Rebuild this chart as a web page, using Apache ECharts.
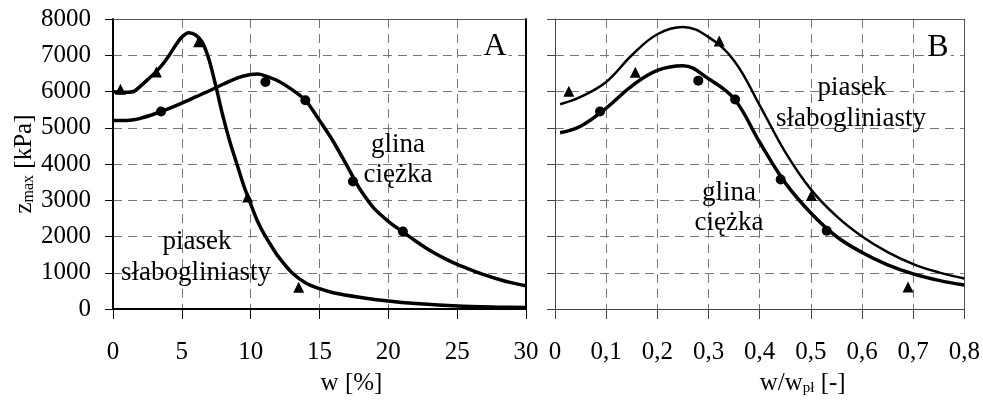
<!DOCTYPE html>
<html>
<head>
<meta charset="utf-8">
<script src="https://cdn.jsdelivr.net/npm/echarts@6/dist/echarts.min.js"></script>
<style>
  html, body { margin: 0; padding: 0; background: #fff; }
  #chart { width: 983px; height: 401px; }
</style>
</head>
<body>
<div id="chart"></div>
<script>
// panel A: z_max vs w [%]
var wA_curvePiasek = [0, 0.5, 1, 1.5, 2, 2.5, 3, 3.5, 4, 4.5, 5, 5.5, 6, 6.5, 7, 7.5, 8, 8.5, 9, 9.5, 10, 10.5, 11, 11.5, 12, 13, 14, 15, 16, 18, 20, 22, 25, 28, 30]
var zA_curvePiasek = [6000, 5970, 5980, 6000, 6150, 6320, 6500, 6700, 6950, 7250, 7500, 7620, 7560, 7350, 6850, 6100, 5300, 4600, 4000, 3400, 2900, 2420, 2050, 1740, 1450, 1000, 720, 560, 450, 320, 220, 150, 80, 50, 40]
var wA_curveGlina = [0, 1, 1.5, 2, 3, 3.5, 4, 5, 6, 7, 8, 9, 10, 10.5, 11, 12, 13, 14, 15, 16, 17, 17.5, 18, 19, 20, 21, 22, 23, 24, 25, 26, 27, 28, 29, 30]
var zA_curveGlina = [5200, 5200, 5220, 5260, 5380, 5450, 5520, 5680, 5850, 6020, 6200, 6370, 6470, 6480, 6440, 6290, 6050, 5750, 5200, 4620, 3950, 3600, 3270, 2760, 2420, 2140, 1870, 1620, 1410, 1230, 1080, 940, 820, 720, 640]
var wA_ptsPiasek = [0.54, 3.15, 6.22, 9.78, 13.49]
var zA_ptsPiasek = [6060, 6540, 7370, 3090, 600]
var wA_ptsGlina = [3.49, 11.07, 13.97, 17.43, 21.06]
var zA_ptsGlina = [5450, 6260, 5760, 3520, 2140]

// panel B: z_max vs w/wpl [-]
var wB_curve = [0.01, 0.05, 0.1, 0.15, 0.2, 0.25, 0.3, 0.35, 0.4, 0.45, 0.5, 0.55, 0.6, 0.65, 0.7, 0.75, 0.8]
var zB_curvePiasek = [5650, 5850, 6260, 7000, 7580, 7780, 7500, 6850, 5620, 4330, 3300, 2560, 2000, 1570, 1240, 1010, 840]
var zB_curveGlina = [4860, 5040, 5540, 6150, 6580, 6710, 6350, 5800, 4600, 3480, 2650, 2000, 1560, 1220, 970, 790, 660]
var wB_ptsPiasek = [0.027, 0.157, 0.321, 0.501, 0.69]
var zB_ptsPiasek = [6010, 6530, 7390, 3130, 610]
var wB_ptsGlina = [0.088, 0.28, 0.352, 0.441, 0.531]
var zB_ptsGlina = [5450, 6300, 5780, 3570, 2160]

function pairs (xs, ys) {
  return xs.map(function (x, i) { return [x, ys[i]] })
}

var serif = 'Liberation Serif, Times New Roman, serif'
var gridDash = { color: '#777', width: 1, type: [9, 6] }

var myChart = echarts.init(document.getElementById('chart'), null, { renderer: 'canvas' })

var option = {
  animation: false,
  backgroundColor: '#fff',
  textStyle: { fontFamily: serif },
  grid: [
    { left: 113, top: 19, width: 413, height: 294 },
    { left: 555, top: 19, width: 411, height: 294 }
  ],
  xAxis: [
    {
      gridIndex: 0, type: 'value', min: 0, max: 30, interval: 5,
      name: 'w [%]', nameLocation: 'middle', nameGap: 62,
      nameTextStyle: { fontFamily: serif, fontSize: 25, color: '#000', padding: [0, 0, 0, 64] },
      axisLine: { onZero: false, lineStyle: { color: '#000', width: 2 } },
      axisTick: { length: 10, lineStyle: { color: '#000', width: 1 } },
      axisLabel: { margin: 31, fontFamily: serif, fontSize: 25, color: '#000' },
      splitLine: { show: true, lineStyle: gridDash }
    },
    { // top border of A
      gridIndex: 0, type: 'value', min: 0, max: 30, position: 'top',
      axisLine: { onZero: false, lineStyle: { color: '#555', width: 1 } },
      axisTick: { show: false }, axisLabel: { show: false }, splitLine: { show: false }
    },
    {
      gridIndex: 1, type: 'value', min: 0, max: 0.8, interval: 0.1,
      name: '{n|w/w}{s|pł}{n| [-]}', nameLocation: 'middle', nameGap: 62,
      nameTextStyle: {
        fontFamily: serif, fontSize: 25, color: '#000', padding: [0, 0, 0, 86],
        rich: {
          n: { fontFamily: serif, fontSize: 25, color: '#000' },
          s: { fontFamily: serif, fontSize: 15, color: '#000', padding: [9, 0, 0, 0] }
        }
      },
      axisLine: { onZero: false, lineStyle: { color: '#444', width: 1 } },
      axisTick: { length: 10, lineStyle: { color: '#444', width: 1 } },
      axisLabel: {
        margin: 31, fontFamily: serif, fontSize: 25, color: '#000',
        formatter: function (v) { return v === 0 ? '0' : v.toFixed(1).replace('.', ',') }
      },
      splitLine: { show: true, lineStyle: gridDash }
    },
    { // top border of B
      gridIndex: 1, type: 'value', min: 0, max: 0.8, position: 'top',
      axisLine: { onZero: false, lineStyle: { color: '#555', width: 1 } },
      axisTick: { show: false }, axisLabel: { show: false }, splitLine: { show: false }
    }
  ],
  yAxis: [
    {
      gridIndex: 0, type: 'value', min: 0, max: 8000, interval: 1000,
      name: '{z|z}{s|max}{z| [kPa]}', nameLocation: 'middle', nameGap: 76, nameRotate: 90,
      nameTextStyle: {
        fontFamily: serif, fontSize: 25, color: '#000',
        rich: {
          z: { fontFamily: serif, fontSize: 25, color: '#000' },
          s: { fontFamily: serif, fontSize: 16, color: '#000', padding: [8, 0, 0, 0] }
        }
      },
      axisLine: { onZero: false, lineStyle: { color: '#000', width: 2 } },
      axisTick: { length: 8, lineStyle: { color: '#000', width: 1 } },
      axisLabel: {
        margin: 22, fontFamily: serif, fontSize: 25, color: '#000',
        formatter: function (v) { return String(v) }
      },
      splitLine: { show: true, lineStyle: gridDash }
    },
    { // right border of A
      gridIndex: 0, type: 'value', min: 0, max: 8000, position: 'right',
      axisLine: { show: true, onZero: false, lineStyle: { color: '#000', width: 2 } },
      axisTick: { show: false }, axisLabel: { show: false }, splitLine: { show: false }
    },
    {
      gridIndex: 1, type: 'value', min: 0, max: 8000, interval: 1000,
      axisLine: { show: true, onZero: false, lineStyle: { color: '#444', width: 1 } },
      axisTick: { show: true, length: 8, lineStyle: { color: '#444', width: 1 } },
      axisLabel: { show: false },
      splitLine: { show: true, lineStyle: gridDash }
    },
    { // right border of B
      gridIndex: 1, type: 'value', min: 0, max: 8000, position: 'right',
      axisLine: { show: true, onZero: false, lineStyle: { color: '#555', width: 1 } },
      axisTick: { show: false }, axisLabel: { show: false }, splitLine: { show: false }
    }
  ],
  series: [
    {
      name: 'piasek A', type: 'line', xAxisIndex: 0, yAxisIndex: 0,
      data: pairs(wA_curvePiasek, zA_curvePiasek), smooth: 0.3, showSymbol: false,
      lineStyle: { color: '#000', width: 3.5 }, z: 3
    },
    {
      name: 'glina A', type: 'line', xAxisIndex: 0, yAxisIndex: 0,
      data: pairs(wA_curveGlina, zA_curveGlina), smooth: 0.3, showSymbol: false,
      lineStyle: { color: '#000', width: 3.5 }, z: 3
    },
    {
      name: 'piasek A pkt', type: 'scatter', xAxisIndex: 0, yAxisIndex: 0,
      data: pairs(wA_ptsPiasek, zA_ptsPiasek), symbol: 'triangle', symbolSize: 11,
      itemStyle: { color: '#000', opacity: 1 }, z: 4
    },
    {
      name: 'glina A pkt', type: 'scatter', xAxisIndex: 0, yAxisIndex: 0,
      data: pairs(wA_ptsGlina, zA_ptsGlina), symbol: 'circle', symbolSize: 10,
      itemStyle: { color: '#000', opacity: 1 }, z: 4
    },
    {
      name: 'piasek B', type: 'line', xAxisIndex: 2, yAxisIndex: 2,
      data: pairs(wB_curve, zB_curvePiasek), smooth: 0.4, showSymbol: false,
      lineStyle: { color: '#000', width: 2.5 }, z: 3
    },
    {
      name: 'glina B', type: 'line', xAxisIndex: 2, yAxisIndex: 2,
      data: pairs(wB_curve, zB_curveGlina), smooth: 0.4, showSymbol: false,
      lineStyle: { color: '#000', width: 3.5 }, z: 3
    },
    {
      name: 'piasek B pkt', type: 'scatter', xAxisIndex: 2, yAxisIndex: 2,
      data: pairs(wB_ptsPiasek, zB_ptsPiasek), symbol: 'triangle', symbolSize: 11,
      itemStyle: { color: '#000', opacity: 1 }, z: 4
    },
    {
      name: 'glina B pkt', type: 'scatter', xAxisIndex: 2, yAxisIndex: 2,
      data: pairs(wB_ptsGlina, zB_ptsGlina), symbol: 'circle', symbolSize: 10,
      itemStyle: { color: '#000', opacity: 1 }, z: 4
    }
  ],
  graphic: [
    { type: 'text', x: 495, y: 47, z: 10, style: { text: 'A', font: '32px ' + serif, fill: '#000', align: 'center', verticalAlign: 'middle', backgroundColor: '#fff', padding: [0, 2] } },
    { type: 'text', x: 938, y: 48, z: 10, style: { text: 'B', font: '32px ' + serif, fill: '#000', align: 'center', verticalAlign: 'middle', backgroundColor: '#fff', padding: [0, 2] } },
    { type: 'text', x: 398, y: 145, z: 10, style: { text: 'glina', font: '27px ' + serif, fill: '#000', align: 'center', verticalAlign: 'middle' } },
    { type: 'text', x: 398, y: 175, z: 10, style: { text: 'ciężka', font: '27px ' + serif, fill: '#000', align: 'center', verticalAlign: 'middle' } },
    { type: 'text', x: 197, y: 242, z: 10, style: { text: 'piasek', font: '27px ' + serif, fill: '#000', align: 'center', verticalAlign: 'middle' } },
    { type: 'text', x: 196, y: 273, z: 10, style: { text: 'słabogliniasty', font: '27px ' + serif, fill: '#000', align: 'center', verticalAlign: 'middle' } },
    { type: 'text', x: 852, y: 88, z: 10, style: { text: 'piasek', font: '27px ' + serif, fill: '#000', align: 'center', verticalAlign: 'middle' } },
    { type: 'text', x: 851, y: 119, z: 10, style: { text: 'słabogliniasty', font: '27px ' + serif, fill: '#000', align: 'center', verticalAlign: 'middle' } },
    { type: 'text', x: 729, y: 193, z: 10, style: { text: 'glina', font: '27px ' + serif, fill: '#000', align: 'center', verticalAlign: 'middle' } },
    { type: 'text', x: 729, y: 223, z: 10, style: { text: 'ciężka', font: '27px ' + serif, fill: '#000', align: 'center', verticalAlign: 'middle' } }
  ]
}

myChart.setOption(option)
</script>
</body>
</html>
